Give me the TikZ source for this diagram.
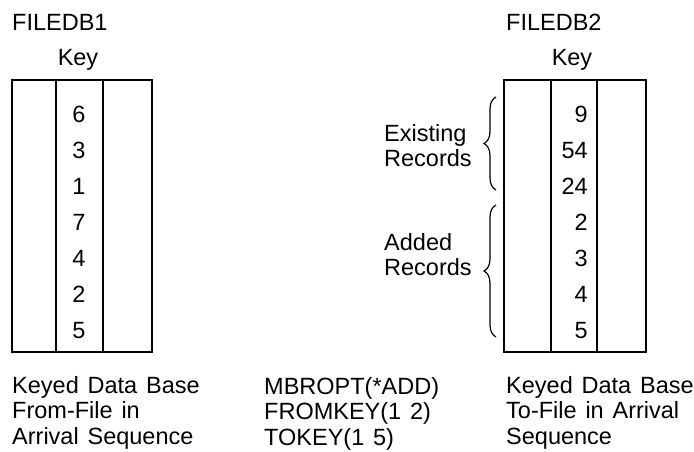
\documentclass[tikz,border=0pt]{standalone}
\usepackage{fontspec}
\setmainfont[WordSpace=1.35]{Liberation Sans}
\usetikzlibrary{decorations.pathreplacing}
\tikzset{
  txt/.style={inner sep=0pt, font=\fontsize{23.5}{25.5}\selectfont},
  para/.style={txt, anchor=base west, align=left},
  pair/.style={para, font=\fontsize{23.5}{24.5}\selectfont},
  keynum/.style={txt, anchor=base},
  keynumr/.style={txt, anchor=base east},
  outer/.style={line width=1.8pt},
  divider/.style={line width=1.2pt},
  bracket/.style={line width=1.2pt, decorate,
    decoration={brace, amplitude=12pt}}
}
\begin{document}
\begin{tikzpicture}[x=1pt, y=-1pt]
  \useasboundingbox[fill=white] (0,0) rectangle (694,451);

  % ---- From-file FILEDB1 ----
  \node[para] (db1) at (12,30) {FILEDB1};
  \node[keynum] (key1) at (78,65) {Key};
  \draw[outer] (12,80) rectangle (152,352);
  \coordinate (l1t) at (56,80);  \coordinate (l1b) at (56,352);
  \coordinate (l2t) at (103,80); \coordinate (l2b) at (103,352);
  \draw[divider] (l1t) -- (l1b) (l2t) -- (l2b);
  \foreach \v [count=\i from 0] in {6,3,1,7,4,2,5}
    \node[keynum] (a\i) at (79,122+36*\i) {\v};

  % ---- To-file FILEDB2 ----
  \node[para] (db2) at (506,30) {FILEDB2};
  \node[keynum] (key2) at (572,65) {Key};
  \draw[outer] (504,80) rectangle (646,352);
  \coordinate (r1t) at (551,80); \coordinate (r1b) at (551,352);
  \coordinate (r2t) at (597,80); \coordinate (r2b) at (597,352);
  \draw[divider] (r1t) -- (r1b) (r2t) -- (r2b);
  \foreach \v [count=\i from 0] in {9,54,24,2,3,4,5}
    \node[keynumr] (b\i) at (588,122+36*\i) {\v};

  % ---- record groups ----
  \coordinate (exbot) at (496,190); \coordinate (extop) at (496,97);
  \coordinate (adbot) at (496,337); \coordinate (adtop) at (496,205);
  \draw[bracket] (exbot) -- (extop);
  \draw[bracket] (adbot) -- (adtop);
  % multi-line nodes are placed by the baseline of their last line
  \node[pair] (existing) at (384,166) {Existing\\Records};
  \node[pair] (added) at (384,275) {Added\\Records};

  % ---- captions ----
  \node[para] (cap1) at (12,444) {Keyed Data Base\\From-File in\\Arrival Sequence};
  \node[para] (cmd) at (264,445) {MBROPT(*ADD)\\FROMKEY(1 2)\\TOKEY(1 5)};
  \node[para] (cap2) at (506,444) {Keyed Data Base\\To-File in Arrival\\Sequence};
\end{tikzpicture}
\end{document}
